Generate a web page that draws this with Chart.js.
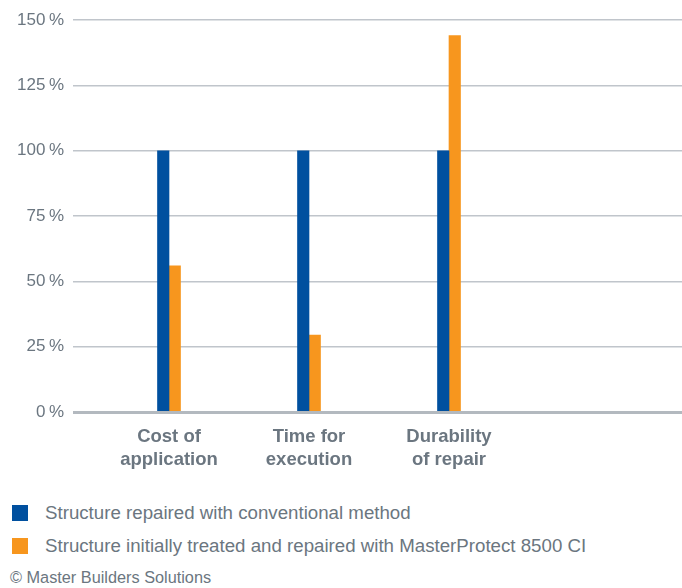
<!DOCTYPE html>
<html>
<head>
<meta charset="utf-8">
<script src="https://cdn.jsdelivr.net/npm/chart.js@4/dist/chart.umd.min.js"></script>
<style>
  body { margin: 0; background: #fff; font-family: "Liberation Sans", Arial, sans-serif; }
  #wrap { position: relative; width: 682px; height: 484px; }
  #legend { position: absolute; left: 12px; top: 496px; color: #6b7680; font-size: 18.7px; }
  .item { height: 33px; display: flex; align-items: center; }
  .box { width: 16px; height: 16px; margin-right: 17px; }
  #copy { position: absolute; left: 10px; top: 568px; color: #6b7680; font-size: 16.3px; }
</style>
</head>
<body>
<div id="wrap"><canvas id="barChart"></canvas></div>
<div id="legend"></div>
<div id="copy">© Master Builders Solutions</div>
<script>

// DATA #######################################################################

var categories = [
    ["Cost of", "application"],
    ["Time for", "execution"],
    ["Durability", "of repair"]
];
var seriesNames = [
    "Structure repaired with conventional method",
    "Structure initially treated and repaired with MasterProtect 8500 CI"
];
var conventional = [100, 100, 100];
var masterProtect = [56, 29.5, 144];
var yTicks = [0, 25, 50, 75, 100, 125, 150];

var colors = ["#00509f", "#f7961e"];
var textGray = "#6b7680";

// BAR CHART ##################################################################

function toPoints(values) {
    return values.map(function (v, i) { return { x: i + 1, y: v }; });
}

var ctx_bar = document.getElementById("barChart");

var data = {
    datasets: [
        {
            label: seriesNames[0],
            backgroundColor: colors[0],
            borderWidth: 0,
            barThickness: 11.5,
            data: toPoints(conventional)
        },
        {
            label: seriesNames[1],
            backgroundColor: colors[1],
            borderWidth: 0,
            barThickness: 11.5,
            data: toPoints(masterProtect)
        }
    ]
};

var barChart = new Chart(ctx_bar, {
    type: 'bar',
    data: data,
    options: {
        responsive: true,
        maintainAspectRatio: false,
        animation: false,
        layout: { padding: { left: 0, right: 0, top: 20, bottom: 0 } },
        plugins: {
            legend: { display: false },
            tooltip: { enabled: false }
        },
        scales: {
            x: {
                type: 'linear',
                offset: false,
                min: 1 - 96 / 140,
                max: 1 + 513 / 140,
                grid: { display: false, drawTicks: false },
                border: { display: false },
                afterBuildTicks: function (scale) {
                    scale.ticks = categories.map(function (c, i) { return { value: i + 1 }; });
                },
                ticks: {
                    autoSkip: false,
                    maxRotation: 0,
                    padding: 13,
                    color: textGray,
                    font: { family: "Liberation Sans", size: 18.5, weight: 'bold', lineHeight: 1.24 },
                    callback: function (value) { return categories[value - 1]; }
                }
            },
            y: {
                min: 0,
                max: 150,
                afterFit: function (scale) { scale.width = 73; },
                afterBuildTicks: function (scale) {
                    scale.ticks = yTicks.map(function (v) { return { value: v }; });
                },
                grid: {
                    drawTicks: false,
                    color: function (c) { return c.tick && c.tick.value === 0 ? "#b3b9bf" : "#c0c5cb"; },
                    lineWidth: function (c) { return c.tick && c.tick.value === 0 ? 3 : 1.5; }
                },
                border: { display: false },
                ticks: {
                    padding: 9,
                    color: textGray,
                    font: { family: "Liberation Sans", size: 17 },
                    callback: function (value) { return value + "\u2009%"; }
                }
            }
        }
    }
});

// Legend #####################################################################

var legend = document.getElementById("legend");
seriesNames.forEach(function (name, i) {
    var row = document.createElement("div");
    row.className = "item";
    row.innerHTML = '<div class="box" style="background:' + colors[i] + '"></div><span>' + name + '</span>';
    legend.appendChild(row);
});

</script>
</body>
</html>
